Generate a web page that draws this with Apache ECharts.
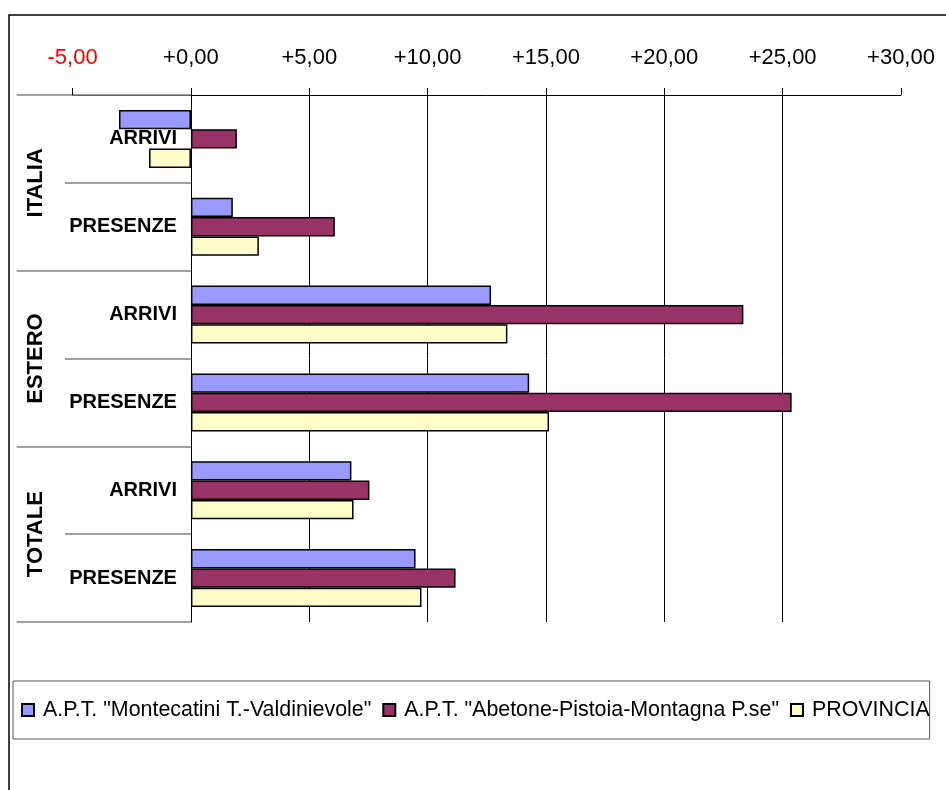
<!DOCTYPE html>
<html>
<head>
<meta charset="utf-8">
<script src="https://cdn.jsdelivr.net/npm/echarts@6/dist/echarts.min.js"></script>
<style>
html,body{margin:0;padding:0;background:#fff;}
#chart{width:946px;height:790px;}
</style>
</head>
<body>
<div id="chart"></div>
<script>
// ---- data ----
var groups = ['ITALIA', 'ESTERO', 'TOTALE'];
var measures = ['ARRIVI', 'PRESENZE'];
var seriesNames = ['A.P.T. "Montecatini T.-Valdinievole"', 'A.P.T. "Abetone-Pistoia-Montagna P.se"', 'PROVINCIA'];
var montecatini = [-3.04, 1.77, 12.68, 14.29, 6.78, 9.49];
var abetone = [1.94, 6.08, 23.34, 25.38, 7.54, 11.18];
var provincia = [-1.77, 2.87, 13.37, 15.13, 6.87, 9.74];
var xTicks = [-5, 0, 5, 10, 15, 20, 25, 30];

// ---- build ----
var categories = [];
groups.forEach(function (g) { measures.forEach(function (m) { categories.push(g + '|' + m); }); });
var colors = ['#9999FF', '#993366', '#FFFFCC'];
var values = [montecatini, abetone, provincia];
var FONT = 'Liberation Sans';
var GRID_LEFT = 72.6, GRID_RIGHT = 45;
var xMin = xTicks[0], xMax = xTicks[xTicks.length - 1];
// pixel distance from grid left to value 0 (to place the category axis on zero)
var zeroShift = (0 - xMin) / (xMax - xMin) * (946 - GRID_LEFT - GRID_RIGHT);

var series = values.map(function (v, i) {
  return {
    name: seriesNames[i],
    type: 'bar',
    data: v,
    xAxisIndex: 0,
    yAxisIndex: 0,
    barGap: '0%',
    barCategoryGap: '34%',
    itemStyle: { color: colors[i], borderColor: '#000', borderWidth: 1.5 },
    emphasis: { disabled: true },
    animation: false
  };
});

var chart = echarts.init(document.getElementById('chart'), null, { renderer: 'canvas' });
chart.setOption({
  animation: false,
  backgroundColor: '#fff',
  graphic: [{
    type: 'rect', silent: true, z: -10,
    shape: { x: 9, y: 15, width: 1200, height: 1200 },
    style: { fill: 'none', stroke: '#000', lineWidth: 1.5 }
  }],
  grid: { left: GRID_LEFT, right: GRID_RIGHT, top: 95, bottom: 168, containLabel: false, outerBoundsMode: 'none' },
  xAxis: {
    type: 'value', position: 'top',
    min: xMin, max: xMax, interval: 5,
    axisLine: { show: true, onZero: false, lineStyle: { color: '#000', width: 1 } },
    axisTick: { show: true, length: 7, lineStyle: { color: '#000', width: 1 } },
    splitLine: { show: true, showMinLine: false, showMaxLine: false, lineStyle: { color: '#000', width: 1 } },
    axisLabel: {
      margin: 26, fontFamily: FONT, fontSize: 22,
      color: function (v) { return Number(v) < 0 ? '#FF0000' : '#000'; },
      formatter: function (v) { return (v < 0 ? '' : '+') + Number(v).toFixed(2).replace('.', ','); }
    }
  },
  yAxis: [{
    type: 'category', inverse: true, data: categories, position: 'left',
    offset: -zeroShift,
    axisLine: { show: true, onZero: false, lineStyle: { color: '#000', width: 1 } },
    axisTick: { show: true, length: 126, lineStyle: { color: '#808080', width: 1.5 } },
    axisLabel: {
      margin: 14, fontFamily: FONT, fontSize: 20, fontWeight: 'bold', color: '#000',
      formatter: function (v) { return v.split('|')[1]; }
    },
    splitLine: { show: false }
  }, {
    type: 'category', inverse: true, data: groups, position: 'left',
    axisLine: { show: false, onZero: false },
    axisTick: { show: true, length: 56, lineStyle: { color: '#808080', width: 1.5 } },
    axisLabel: { margin: 26, rotate: 90, fontFamily: FONT, fontSize: 22, fontWeight: 'bold', color: '#000' },
    splitLine: { show: false }
  }],
  legend: {
    data: seriesNames,
    left: 13, top: 681, width: 925,
    orient: 'horizontal', align: 'left',
    padding: [18, 0, 18, 8],
    itemGap: 11, itemWidth: 12, itemHeight: 12, icon: 'rect',
    borderColor: '#555', borderWidth: 1,
    selectedMode: false,
    textStyle: { fontFamily: FONT, fontSize: 21.4, lineHeight: 22, color: '#000', padding: [0, 0, 0, 4] }
  },
  series: series
});
</script>
</body>
</html>
